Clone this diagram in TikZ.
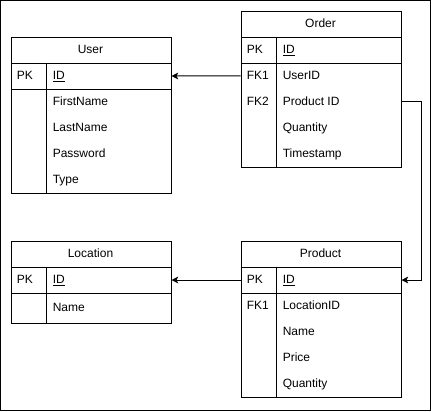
\documentclass[tikz,border=0pt]{standalone}
\usepackage{fontspec}
\setmainfont{Liberation Sans}
\usetikzlibrary{arrows.meta}
\tikzset{
  tbox/.style={draw, line width=0.75pt, inner sep=0pt, minimum width=120pt, anchor=north west},
  keyrow/.style={draw, line width=0.75pt, inner sep=0pt, minimum width=120pt, minimum height=19.5pt, anchor=north west},
  fieldrow/.style={inner sep=0pt, minimum width=120pt, minimum height=19.5pt, anchor=north west},
  lbl/.style={inner sep=0pt, anchor=west, text height=6.45pt, text depth=0pt, font=\fontsize{9pt}{11pt}\selectfont},
  ttl/.style={inner sep=0pt, text height=6.45pt, text depth=0pt, font=\fontsize{9pt}{11pt}\selectfont},
  divider/.style={line width=0.75pt},
  conn/.style={line width=0.75pt, -{Stealth[length=5pt, width=5pt, inset=1.2pt]}},
}
\begin{document}
\begin{tikzpicture}[x=0.75pt, y=-0.75pt]
\useasboundingbox (-0.5,-0.5) rectangle (430.5,410.5);
\draw[line width=0.75pt] (0,0) rectangle (430,410);

% ---------- User ----------
\node[tbox, minimum height=117pt] (user) at (10,36) {};
\node[ttl] (user-title) at (90,49) {User};
\node[keyrow] (user-id) at (10,62) {};
\node[fieldrow] (user-firstname) at (10,88) {};
\draw[divider] (46,62) -- (46,192);
\node[lbl] (user-pk) at (16,75) {PK};
\node[lbl] (user-idt) at (52,75) {\underline{ID}};
\node[lbl] (user-fn) at (52,101) {FirstName};
\node[lbl] (user-ln) at (52,127) {LastName};
\node[lbl] (user-pw) at (52,153) {Password};
\node[lbl] (user-ty) at (52,179) {Type};

% ---------- Order ----------
\node[tbox, minimum height=117pt] (order) at (240,10) {};
\node[ttl] (order-title) at (320,23) {Order};
\node[keyrow] (order-id) at (240,36) {};
\node[fieldrow] (order-fk1) at (240,62) {};
\node[fieldrow] (order-fk2) at (240,88) {};
\draw[divider] (276,36) -- (276,166);
\node[lbl] (order-pk) at (246,49) {PK};
\node[lbl] (order-idt) at (282,49) {\underline{ID}};
\node[lbl] (order-fk1k) at (246,75) {FK1};
\node[lbl] (order-uid) at (282,75) {UserID};
\node[lbl] (order-fk2k) at (246,101) {FK2};
\node[lbl] (order-pid) at (282,101) {Product ID};
\node[lbl] (order-qty) at (282,127) {Quantity};
\node[lbl] (order-ts) at (282,153) {Timestamp};

% ---------- Location ----------
\node[tbox, minimum height=61.5pt] (location) at (10,240) {};
\node[ttl] (location-title) at (90,253) {Location};
\node[keyrow] (location-id) at (10,266) {};
\draw[divider] (46,266) -- (46,322);
\node[lbl] (location-pk) at (16,279) {PK};
\node[lbl] (location-idt) at (52,279) {\underline{ID}};
\node[lbl] (location-name) at (52,307) {Name};

% ---------- Product ----------
\node[tbox, minimum height=117pt] (product) at (240,240) {};
\node[ttl] (product-title) at (320,253) {Product};
\node[keyrow] (product-id) at (240,266) {};
\draw[divider] (276,266) -- (276,396);
\node[lbl] (product-pk) at (246,279) {PK};
\node[lbl] (product-idt) at (282,279) {\underline{ID}};
\node[lbl] (product-fk1k) at (246,305) {FK1};
\node[lbl] (product-lid) at (282,305) {LocationID};
\node[lbl] (product-name) at (282,331) {Name};
\node[lbl] (product-price) at (282,357) {Price};
\node[lbl] (product-qty) at (282,383) {Quantity};

% ---------- Connectors ----------
\draw[conn] (order-fk1.west) -- (user-id.east);
\draw[conn] (order-fk2.east) -- ++(20,0) |- (product-id.east);
\draw[conn] (product-id.west) -- (location-id.east);
\end{tikzpicture}
\end{document}
